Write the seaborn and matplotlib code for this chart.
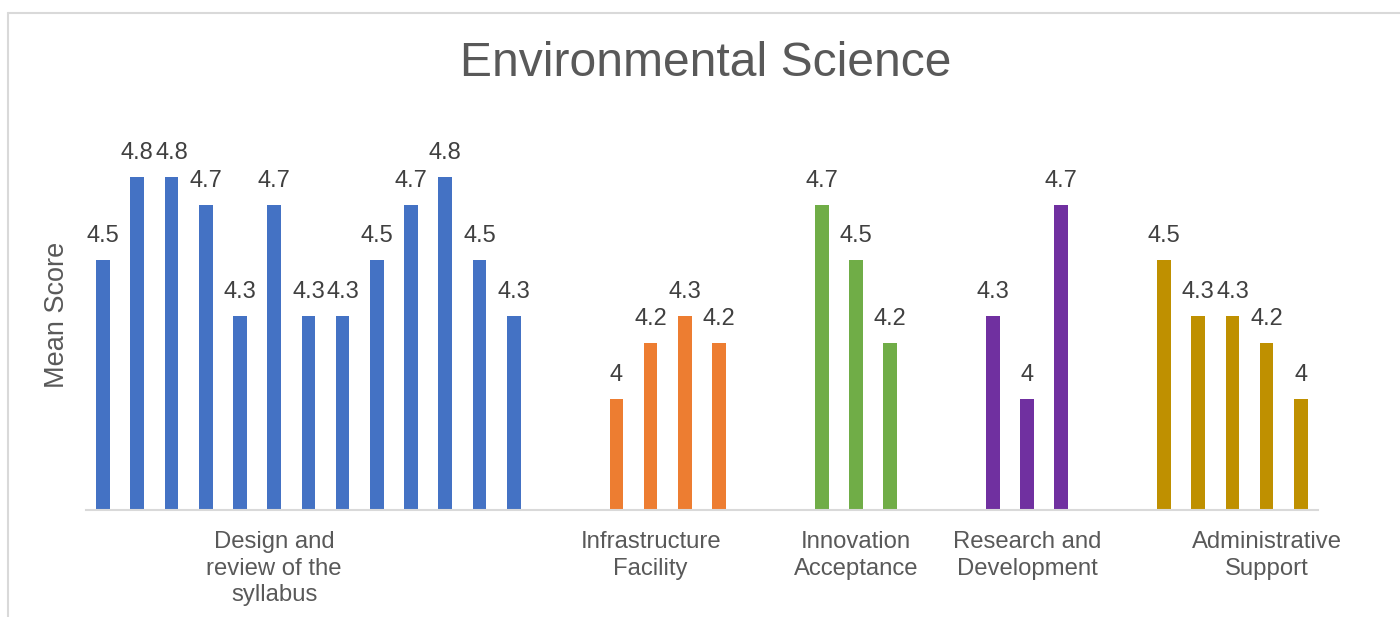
import pandas as pd
import matplotlib.pyplot as plt
import seaborn as sns
from matplotlib.lines import Line2D

# values
categories = ["Design and\nreview of the\nsyllabus", "Infrastructure\nFacility",
              "Innovation\nAcceptance", "Research and\nDevelopment",
              "Administrative\nSupport"]
design_vals = [4.5, 4.8, 4.8, 4.7, 4.3, 4.7, 4.3, 4.3, 4.5, 4.7, 4.8, 4.5, 4.3]
infra_vals = [4.0, 4.2, 4.3, 4.2]
innov_vals = [4.7, 4.5, 4.2]
research_vals = [4.3, 4.0, 4.7]
admin_vals = [4.5, 4.3, 4.3, 4.2, 4.0]
colors = ["#4472C4", "#ED7D31", "#70AD47", "#7030A0", "#BF9000"]
# slot under which Excel put each category label
label_slots = [5, 16, 22, 27, 34]

groups = [design_vals, infra_vals, innov_vals, research_vals, admin_vals]

# lay bars out one slot each, two empty slots between groups
rows = []
slot = 0
for cat, vals in zip(categories, groups):
    for v in vals:
        rows.append({"pos": slot, "score": v, "group": cat})
        slot += 1
    slot += 2
df = pd.DataFrame(rows)

sns.set_theme(style="white")
plt.rcParams["font.family"] = ["Liberation Sans", "DejaVu Sans"]

fig = plt.figure(figsize=(14, 6.17), dpi=100)
ax = fig.add_axes([0.0614, 0.1734, 0.880, 0.630])

sns.barplot(data=df, x="pos", y="score", hue="group", palette=dict(zip(categories, colors)),
            native_scale=True, width=0.4, dodge=False, legend=False, linewidth=0,
            saturation=1, ax=ax)

for p, v in zip(df["pos"], df["score"]):
    ax.annotate(f"{v:g}", (p, v), xytext=(0, 13), textcoords="offset points",
                ha="center", va="baseline", fontsize=17, color="#404040")

ax.set_xlim(-0.5, 35.5)
ax.set_ylim(3.6, 5.0)
ax.set_xticks(label_slots)
ax.set_xticklabels(categories, fontsize=17.2, color="#595959", linespacing=1.28)
ax.tick_params(axis="x", length=0, pad=15)
ax.set_yticks([])
ax.set_xlabel("")
ax.set_ylabel("")
for s in ["top", "right", "left"]:
    ax.spines[s].set_visible(False)
ax.spines["bottom"].set_color("#D9D9D9")
ax.spines["bottom"].set_linewidth(1.5)

fig.text(57 / 1400, 1 - 315 / 617, "Mean Score", rotation=90, ha="center", va="center",
         fontsize=19.5, color="#595959")
fig.text(706 / 1400, 1 - 64 / 617, "Environmental Science", ha="center", va="center",
         fontsize=34.6, color="#595959")

# chart frame, cut off at right and bottom
fig.add_artist(Line2D([7.5 / 1400, 1], [1 - 13 / 617] * 2, transform=fig.transFigure,
                      color="#D9D9D9", lw=1.5))
fig.add_artist(Line2D([7.5 / 1400] * 2, [0, 1 - 13 / 617], transform=fig.transFigure,
                      color="#D9D9D9", lw=1.5))

fig.savefig("out.png", dpi=100)
